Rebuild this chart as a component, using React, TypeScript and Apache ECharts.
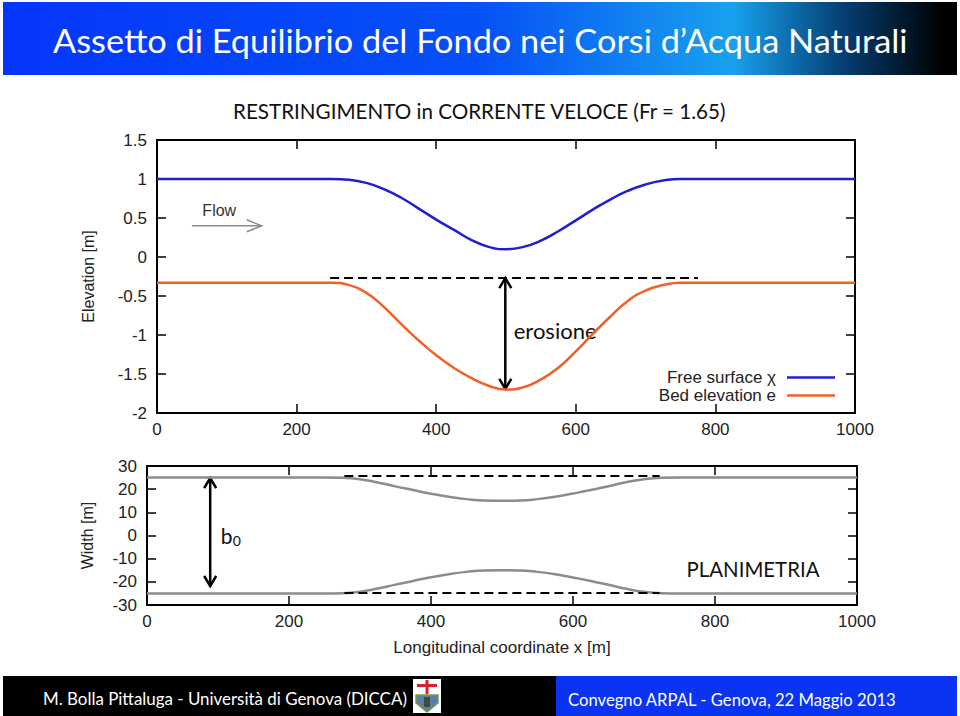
import React, { useEffect, useRef } from "react";
import * as echarts from "echarts";

// Longitudinal coordinate x [m]
const xPos = [
  0, 25, 50, 75, 100, 125, 150, 175, 200, 225, 250, 275, 300, 325, 350, 375, 400, 425, 450, 475, 500,
  525, 550, 575, 600, 625, 650, 675, 700, 725, 750, 775, 800, 825, 850, 875, 900, 925, 950, 975, 1000,
];
// Free surface χ [m]
const freeSurface = [
  1.0, 1.0, 1.0, 1.0, 1.0, 1.0, 1.0, 1.0, 1.0, 1.0, 1.0, 0.99, 0.95, 0.87, 0.76, 0.62, 0.48, 0.35, 0.22, 0.13, 0.1,
  0.13, 0.21, 0.33, 0.47, 0.61, 0.74, 0.85, 0.93, 0.98, 1.0, 1.0, 1.0, 1.0, 1.0, 1.0, 1.0, 1.0, 1.0, 1.0, 1.0,
];
// Bed elevation e [m]
const bedElevation = [
  -0.33, -0.33, -0.33, -0.33, -0.33, -0.33, -0.33, -0.33, -0.33, -0.33, -0.33, -0.36, -0.46, -0.64, -0.86, -1.07, -1.26, -1.42, -1.55, -1.65, -1.7,
  -1.67, -1.57, -1.42, -1.21, -0.98, -0.76, -0.56, -0.43, -0.36, -0.33, -0.33, -0.33, -0.33, -0.33, -0.33, -0.33, -0.33, -0.33, -0.33, -0.33,
];
// Channel banks [m]
const bankUpper = [
  25, 25, 25, 25, 25, 25, 25, 25, 25, 25, 25, 24.9, 24.3, 22.9, 21.2, 19.6, 18.0, 16.7, 15.7, 15.1, 15.0,
  15.1, 15.7, 16.7, 18.1, 19.6, 21.3, 23.0, 24.3, 24.9, 25, 25, 25, 25, 25, 25, 25, 25, 25, 25, 25,
];
const bankLower = [
  -25, -25, -25, -25, -25, -25, -25, -25, -25, -25, -25, -24.9, -24.3, -22.9, -21.2, -19.6, -18.0, -16.7, -15.7, -15.1, -15.0,
  -15.1, -15.7, -16.7, -18.1, -19.6, -21.3, -23.0, -24.3, -24.9, -25, -25, -25, -25, -25, -25, -25, -25, -25, -25, -25,
];

// Axis ranges
const xRange = [0, 1000, 200];
const elevRange = [-2, 1.5, 0.5];
const widthRange = [-30, 30, 10];

// Annotations (data coordinates)
const initialBedLevel = -0.27;
const dashedTop = [248, 775];
const erosionX = 499;
const erosionBottom = -1.69;
const bankDashUpper = 25.7;
const bankDashLower = -24.7;
const bankDashX = [278, 722];
const b0X = 89;
const b0Range = [24.8, -21.8];

const SER_FS = "Free surface χ";
const SER_BED = "Bed elevation e";

const AXFONT = "Liberation Sans";
const SLIDEFONT = "Lato";

function fitScale(text: string, font: string, target: number) {
  const c = document.createElement("canvas").getContext("2d");
  if (!c) return 1;
  c.font = font;
  const w = c.measureText(text).width;
  return w > 0 ? target / w : 1;
}

function makeAxis(
  kind: "x" | "y",
  gridIndex: number,
  range: number[],
  position: string,
  showLabel: boolean,
  name?: string,
  nameGap?: number
) {
  return {
    type: "value",
    gridIndex,
    position,
    min: range[0],
    max: range[1],
    interval: range[2],
    name: name || "",
    nameLocation: "middle",
    nameGap: nameGap || 0,
    nameTextStyle: { fontFamily: AXFONT, fontSize: kind === "x" ? 17 : 16, color: "#222" },
    axisLine: { show: true, onZero: false, lineStyle: { color: "#000", width: 2 } },
    axisTick: { show: true, inside: true, length: 9, lineStyle: { color: "#000", width: 1.5 } },
    axisLabel: {
      show: showLabel,
      fontFamily: AXFONT,
      fontSize: 17,
      color: "#222",
      margin: kind === "x" ? 8 : 10,
      formatter: (v: number) => String(v),
    },
    splitLine: { show: false },
  };
}

export default function App() {
  const ref = useRef<HTMLDivElement>(null);

  useEffect(() => {
    if (!ref.current) return;
    const chart = echarts.init(ref.current, undefined, { renderer: "svg" });

    const pts = (ys: number[]) => xPos.map((x, i) => [x, ys[i]]);
    const dashStyle = { color: "#000", width: 2, type: [9, 5] as any };

    chart.setOption({
      animation: false,
      backgroundColor: "#fff",
      grid: [
        { left: 157, top: 140, width: 698, height: 273 },
        { left: 147, top: 466, width: 710, height: 139 },
      ],
      xAxis: [
        makeAxis("x", 0, xRange, "bottom", true),
        makeAxis("x", 0, xRange, "top", false),
        makeAxis("x", 1, xRange, "bottom", true, "Longitudinal coordinate x [m]", 34),
        makeAxis("x", 1, xRange, "top", false),
      ],
      yAxis: [
        makeAxis("y", 0, elevRange, "left", true, "Elevation [m]", 61),
        makeAxis("y", 0, elevRange, "right", false),
        makeAxis("y", 1, widthRange, "left", true, "Width [m]", 52),
        makeAxis("y", 1, widthRange, "right", false),
      ],
      legend: {
        data: [SER_FS, SER_BED],
        orient: "vertical",
        right: 125,
        top: 369,
        align: "right",
        icon: "rect",
        itemWidth: 48,
        itemHeight: 2.5,
        itemGap: 1,
        padding: 0,
        textStyle: { fontFamily: AXFONT, fontSize: 17, color: "#222", padding: [0, 6, 0, 0] },
      },
      series: [
        {
          name: SER_FS,
          type: "line",
          xAxisIndex: 0,
          yAxisIndex: 0,
          data: pts(freeSurface),
          symbol: "none",
          smooth: 0.5,
          lineStyle: { color: "#1f1fd2", width: 2.5 },
          itemStyle: { color: "#1f1fd2" },
        },
        {
          name: SER_BED,
          type: "line",
          xAxisIndex: 0,
          yAxisIndex: 0,
          data: pts(bedElevation),
          symbol: "none",
          smooth: 0.5,
          lineStyle: { color: "#f2602a", width: 2.5 },
          itemStyle: { color: "#f2602a" },
          markLine: {
            silent: true,
            symbol: "none",
            label: { show: false },
            lineStyle: dashStyle,
            data: [
              [
                { coord: [dashedTop[0], initialBedLevel] },
                { coord: [dashedTop[1], initialBedLevel] },
              ],
            ],
          },
        },
        {
          name: "bank upper",
          type: "line",
          xAxisIndex: 2,
          yAxisIndex: 2,
          data: pts(bankUpper),
          symbol: "none",
          smooth: 0.5,
          lineStyle: { color: "#8c8c8c", width: 2.5 },
          markLine: {
            silent: true,
            symbol: "none",
            label: { show: false },
            lineStyle: dashStyle,
            data: [
              [{ coord: [bankDashX[0], bankDashUpper] }, { coord: [bankDashX[1], bankDashUpper] }],
              [{ coord: [bankDashX[0], bankDashLower] }, { coord: [bankDashX[1], bankDashLower] }],
            ],
          },
        },
        {
          name: "bank lower",
          type: "line",
          xAxisIndex: 2,
          yAxisIndex: 2,
          data: pts(bankLower),
          symbol: "none",
          smooth: 0.5,
          lineStyle: { color: "#8c8c8c", width: 2.5 },
        },
      ],
    });

    const top = (p: number[]) => chart.convertToPixel({ xAxisIndex: 0, yAxisIndex: 0 }, p) as number[];
    const bot = (p: number[]) => chart.convertToPixel({ xAxisIndex: 2, yAxisIndex: 2 }, p) as number[];

    const dblArrow = (a: number[], b: number[], color: string, w: number) => [
      { type: "line", shape: { x1: a[0], y1: a[1], x2: b[0], y2: b[1] }, style: { stroke: color, lineWidth: w } },
      {
        type: "polyline",
        shape: { points: [[a[0] - 6, a[1] + 10], [a[0], a[1]], [a[0] + 6, a[1] + 10]] },
        style: { stroke: color, lineWidth: w, fill: "none" },
      },
      {
        type: "polyline",
        shape: { points: [[b[0] - 6, b[1] - 10], [b[0], b[1]], [b[0] + 6, b[1] - 10]] },
        style: { stroke: color, lineWidth: w, fill: "none" },
      },
    ];

    const erA = top([erosionX, initialBedLevel]);
    const erB = top([erosionX, erosionBottom]);
    const bA = bot([b0X, b0Range[0]]);
    const bB = bot([b0X, b0Range[1]]);
    const flowA = top([50, 0.4]);
    const flowB = top([150, 0.4]);
    const flowTxt = top([65, 0.6]);
    const eroTxt = top([511, -0.95]);
    const b0Txt = bot([104, 0.2]);
    const planTxt = bot([760, -14.5]);

    const title = "Assetto di Equilibrio del Fondo nei Corsi d\u2019Acqua Naturali";
    const sub = "RESTRINGIMENTO in CORRENTE VELOCE (Fr = 1.65)";
    const footL = "M. Bolla Pittaluga - Universit\u00e0 di Genova (DICCA)";
    const footR = "Convegno ARPAL - Genova, 22 Maggio 2013";

    const slideText = (text: string, x: number, y: number, size: number, width: number, color: string) => ({
      type: "text",
      x,
      y,
      scaleX: fitScale(text, `${size}px ${SLIDEFONT}`, width),
      style: {
        text,
        fontFamily: SLIDEFONT,
        fontSize: size,
        fill: color,
        textAlign: "left",
        textVerticalAlign: "middle",
      },
    });

    chart.setOption({
      graphic: [
        {
          type: "rect",
          shape: { x: 3, y: 2, width: 954, height: 73 },
          style: {
            fill: new echarts.graphic.LinearGradient(0, 0, 1, 0, [
              { offset: 0, color: "#0536fb" },
              { offset: 0.5, color: "#0650f6" },
              { offset: 0.765, color: "#18a2ee" },
              { offset: 0.88, color: "#053f74" },
              { offset: 0.985, color: "#000000" },
              { offset: 1, color: "#000000" },
            ]),
          },
        },
        slideText(title, 53, 40, 33, 855, "#ffffff"),
        slideText(sub, 233, 110, 21, 494, "#111111"),
        { type: "rect", shape: { x: 3, y: 676, width: 553, height: 40 }, style: { fill: "#000000" } },
        { type: "rect", shape: { x: 556, y: 676, width: 401, height: 40 }, style: { fill: "#0a33f2" } },
        slideText(footL, 43, 698, 17, 364, "#ffffff"),
        slideText(footR, 568, 699, 17, 329, "#ffffff"),
        { type: "rect", shape: { x: 413, y: 679, width: 28, height: 34 }, style: { fill: "#ffffff" } },
        { type: "rect", shape: { x: 425.5, y: 680, width: 3, height: 14 }, style: { fill: "#d8202a" } },
        { type: "rect", shape: { x: 417, y: 684, width: 20, height: 3 }, style: { fill: "#d8202a" } },
        {
          type: "polygon",
          shape: { points: [[416, 695], [438, 695], [438, 703], [427, 712], [416, 703]] },
          style: { fill: "#5a7fae", stroke: "#7a9a3a", lineWidth: 1.5 },
        },
        { type: "rect", shape: { x: 424, y: 697, width: 6, height: 10 }, style: { fill: "#3c4f30" } },
        ...dblArrow(erA, erB, "#000", 2.5),
        ...dblArrow(bA, bB, "#000", 2.5),
        {
          type: "line",
          shape: { x1: flowA[0], y1: flowA[1], x2: flowB[0], y2: flowB[1] },
          style: { stroke: "#8a8a8a", lineWidth: 1.5 },
        },
        {
          type: "polyline",
          shape: { points: [[flowB[0] - 15, flowB[1] - 6], [flowB[0], flowB[1]], [flowB[0] - 15, flowB[1] + 6]] },
          style: { stroke: "#8a8a8a", lineWidth: 1.5, fill: "none" },
        },
        {
          type: "text",
          x: flowTxt[0],
          y: flowTxt[1],
          style: { text: "Flow", fontFamily: AXFONT, fontSize: 16, fill: "#333", textAlign: "left", textVerticalAlign: "middle" },
        },
        slideText("erosione", eroTxt[0], eroTxt[1], 21, 83, "#111111"),
        slideText("PLANIMETRIA", planTxt[0], planTxt[1], 21, 133, "#111111"),
        {
          type: "text",
          x: b0Txt[0],
          y: b0Txt[1],
          style: {
            text: "b",
            fontFamily: SLIDEFONT,
            fontSize: 21,
            fill: "#111",
            textAlign: "left",
            textVerticalAlign: "middle",
          },
        },
        {
          type: "text",
          x: b0Txt[0] + 12,
          y: b0Txt[1] + 5,
          style: {
            text: "0",
            fontFamily: SLIDEFONT,
            fontSize: 14,
            fill: "#111",
            textAlign: "left",
            textVerticalAlign: "middle",
          },
        },
      ],
    });

    return () => chart.dispose();
  }, []);

  return (
    <div
      ref={ref}
      style={{ position: "fixed", left: 0, top: 0, width: 960, height: 716, background: "#fff" }}
    />
  );
}
